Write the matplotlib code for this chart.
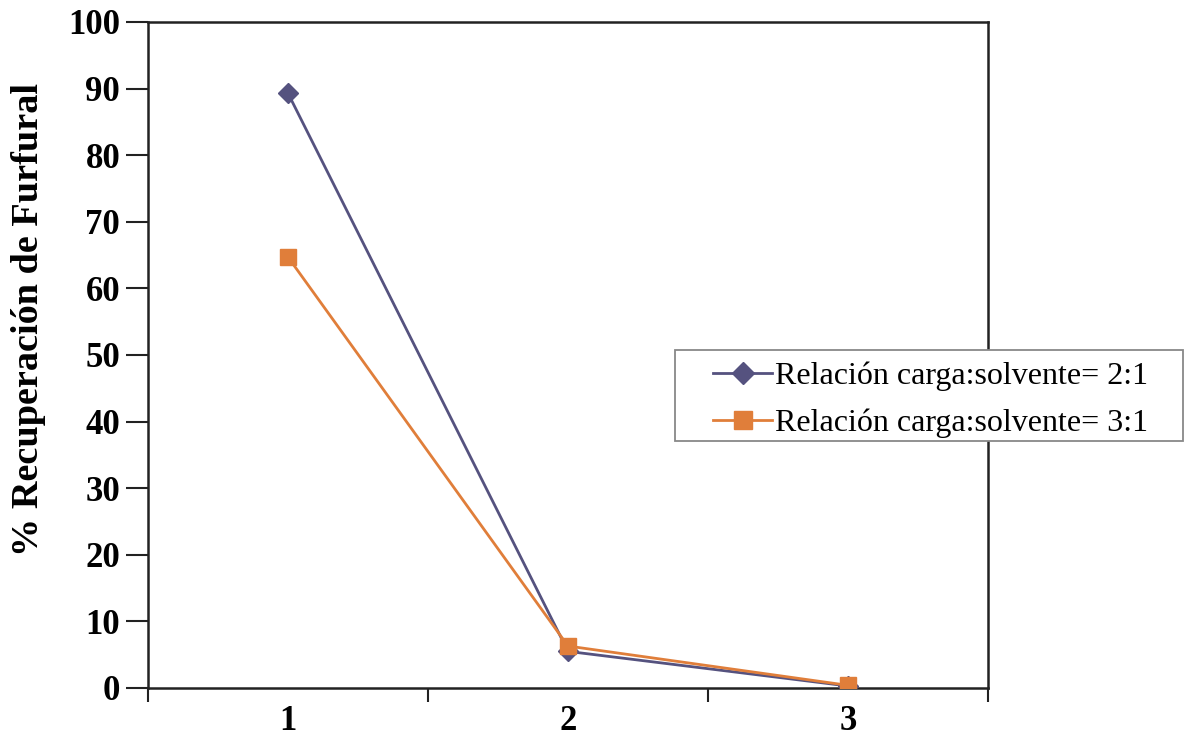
import matplotlib
matplotlib.use("Agg")
import matplotlib.pyplot as plt
from matplotlib.patches import Rectangle
from matplotlib.ticker import FixedLocator

etapas = [1, 2, 3]
recup_2a1 = [89.3, 5.5, 0.3]
recup_3a1 = [64.7, 6.3, 0.4]
etiquetas = ["Relación carga:solvente= 2:1", "Relación carga:solvente= 3:1"]

serif = ["Liberation Serif", "DejaVu Serif"]
W, H = 1187, 756

fig = plt.figure(figsize=(W / 100, H / 100), dpi=100)
ax = fig.add_axes([148 / W, 1 - 688 / H, 840 / W, 666 / H])

ax.plot(etapas, recup_2a1, color="#55527F", lw=2, marker="D", ms=10,
        mfc="#55527F", mec="#55527F", label=etiquetas[0], zorder=3)
ax.plot(etapas, recup_3a1, color="#E07E3A", lw=2, marker="s", ms=12,
        mfc="#E07E3A", mec="#E07E3A", label=etiquetas[1], zorder=4)

ax.set_xlim(0.5, 3.5)
ax.set_ylim(0, 100)
ax.set_yticks(range(0, 101, 10))
ax.set_xticks(etapas)
ax.xaxis.set_minor_locator(FixedLocator([0.5, 1.5, 2.5, 3.5]))
ax.tick_params(axis="x", which="major", length=0, pad=12)
ax.tick_params(axis="x", which="minor", length=10, width=1.5, direction="out", color="#222222")
ax.tick_params(axis="y", length=16, width=1.5, direction="out", color="#222222", pad=4)

for lab in ax.get_xticklabels() + ax.get_yticklabels():
    lab.set_fontfamily(serif)
    lab.set_fontweight("bold")
    lab.set_fontsize(25)

for sp in ax.spines.values():
    sp.set_color("#222222")
    sp.set_linewidth(1.8)

# axis title, placed in figure pixels
fig.text(29 / W, 1 - 320 / H, "% Recuperación de Furfural", rotation=90,
         ha="center", va="center", fontfamily=serif, fontweight="bold", fontsize=27.5)

# legend box with white fill, covering the right spine
caja = Rectangle((675 / W, 1 - 441 / H), 508 / W, 91 / H, transform=fig.transFigure,
                 facecolor="white", edgecolor="#888888", linewidth=1.3,
                 clip_on=False, zorder=10)
ax.add_patch(caja)

leg = ax.legend(loc="center left", bbox_to_anchor=(713 / W, 1 - 399.5 / H),
                bbox_transform=fig.transFigure, prop={"family": serif, "size": 23},
                frameon=False, handlelength=1.85, handletextpad=0.1, borderpad=0,
                labelspacing=0.55, borderaxespad=0, markerscale=1.1)
leg.set_zorder(11)

fig.savefig("out.png", dpi=100, facecolor="white")
